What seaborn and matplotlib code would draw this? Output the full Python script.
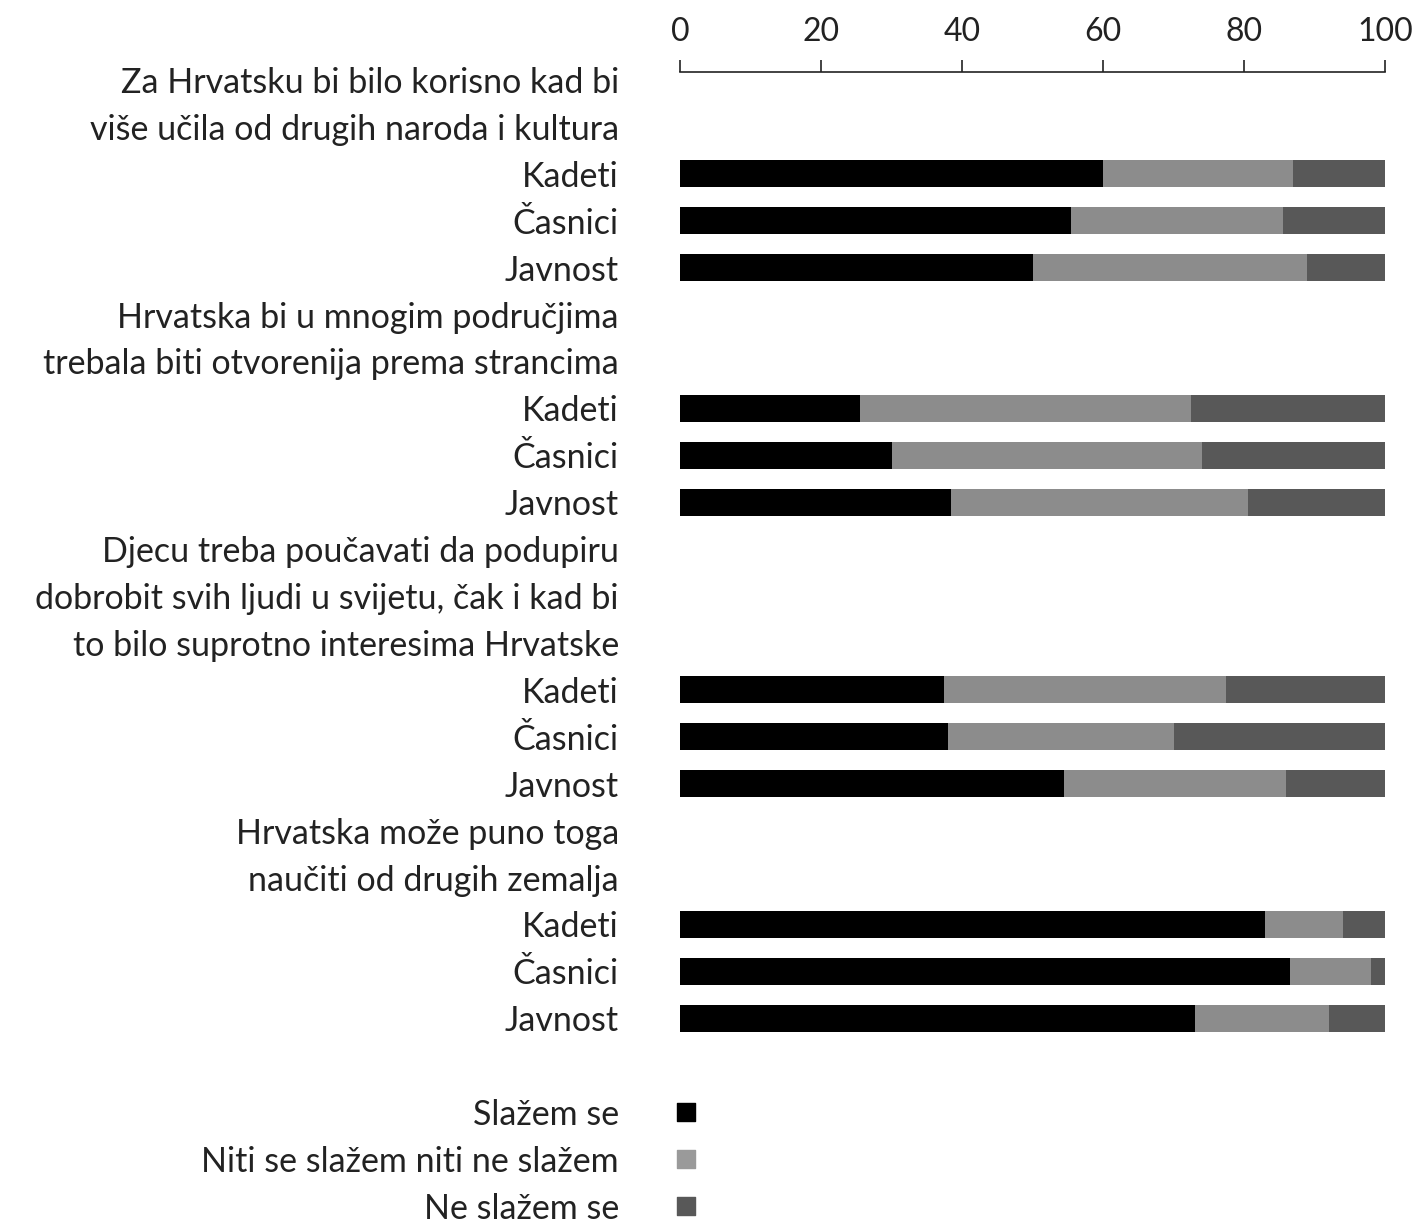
import matplotlib
matplotlib.use('Agg')
import matplotlib.pyplot as plt
import seaborn as sns
import pandas as pd
import numpy as np

sns.set_theme(style='white')
plt.rcParams['font.family'] = ['Lato', 'DejaVu Sans']

# question titles (one entry per printed line)
questions = [
    ['Za Hrvatsku bi bilo korisno kad bi', 'više učila od drugih naroda i kultura'],
    ['Hrvatska bi u mnogim područjima', 'trebala biti otvorenija prema strancima'],
    ['Djecu treba poučavati da podupiru', 'dobrobit svih ljudi u svijetu, čak i kad bi',
     'to bilo suprotno interesima Hrvatske'],
    ['Hrvatska može puno toga', 'naučiti od drugih zemalja'],
]
respondents = ['Kadeti', 'Časnici', 'Javnost']

# percentages, question by question, respondents in order above
agree = [60, 55.5, 50, 25.5, 30, 38.5, 37.5, 38, 54.5, 83, 86.5, 73]
neutral = [27, 30, 39, 47, 44, 42, 40, 32, 31.5, 11, 11.5, 19]
disagree = [13, 14.5, 11, 27.5, 26, 19.5, 22.5, 30, 14, 6, 2, 8]

answers = ['Slažem se', 'Niti se slažem niti ne slažem', 'Ne slažem se']
colors = ['#000000', '#8c8c8c', '#585858']

# build the rows: each text line takes one slot
labels = []
rows = []
slot = 0
i = 0
for q in questions:
    for line in q:
        labels.append((slot, line))
        slot += 1
    for r in respondents:
        labels.append((slot, r))
        rows.append({'pos': slot, 'respondent': r,
                     'agree': agree[i], 'neutral': neutral[i], 'disagree': disagree[i]})
        slot += 1
        i += 1
slot += 1  # blank line before the key
legend_slots = []
for a in answers:
    labels.append((slot, a))
    legend_slots.append(slot)
    slot += 1

df = pd.DataFrame(rows)
df['c1'] = df['agree']
df['c2'] = df['agree'] + df['neutral']
df['c3'] = df['c2'] + df['disagree']

fig = plt.figure(figsize=(14.17, 12.25), dpi=100)
ax = fig.add_axes([680 / 1417, 1 - 1220 / 1225, 705 / 1417, (1220 - 72) / 1225])

# stacked bars, drawn back to front
for col, c in zip(['c3', 'c2', 'c1'], colors[::-1]):
    sns.barplot(data=df, x=col, y='pos', orient='h', native_scale=True,
                color=c, saturation=1, width=0.58, errorbar=None, ax=ax,
                linewidth=0)

# key squares next to the key labels
key_colors = ['#000000', '#9a9a9a', '#585858']
for s, c in zip(legend_slots, key_colors):
    ax.scatter([0.9], [s], marker='s', s=150, color=c, clip_on=False, zorder=5)

ax.set_xlim(0, 100)
ax.set_ylim(24.3, -0.17)
ax.set_xticks([0, 20, 40, 60, 80, 100])
ax.xaxis.tick_top()
ax.tick_params(axis='x', direction='out', length=9, width=1.2, colors='#222222',
               labelsize=23, pad=9)
ax.set_yticks([p for p, _ in labels])
ax.set_yticklabels([t for _, t in labels], fontsize=24.5, color='#222222')
ax.tick_params(axis='y', length=0, pad=44)
ax.set_xlabel('')
ax.set_ylabel('')

for s in ['left', 'right', 'bottom']:
    ax.spines[s].set_visible(False)
ax.spines['top'].set_visible(True)
ax.spines['top'].set_color('#222222')
ax.spines['top'].set_linewidth(1.2)

fig.savefig('out.png', dpi=100, facecolor='white')
